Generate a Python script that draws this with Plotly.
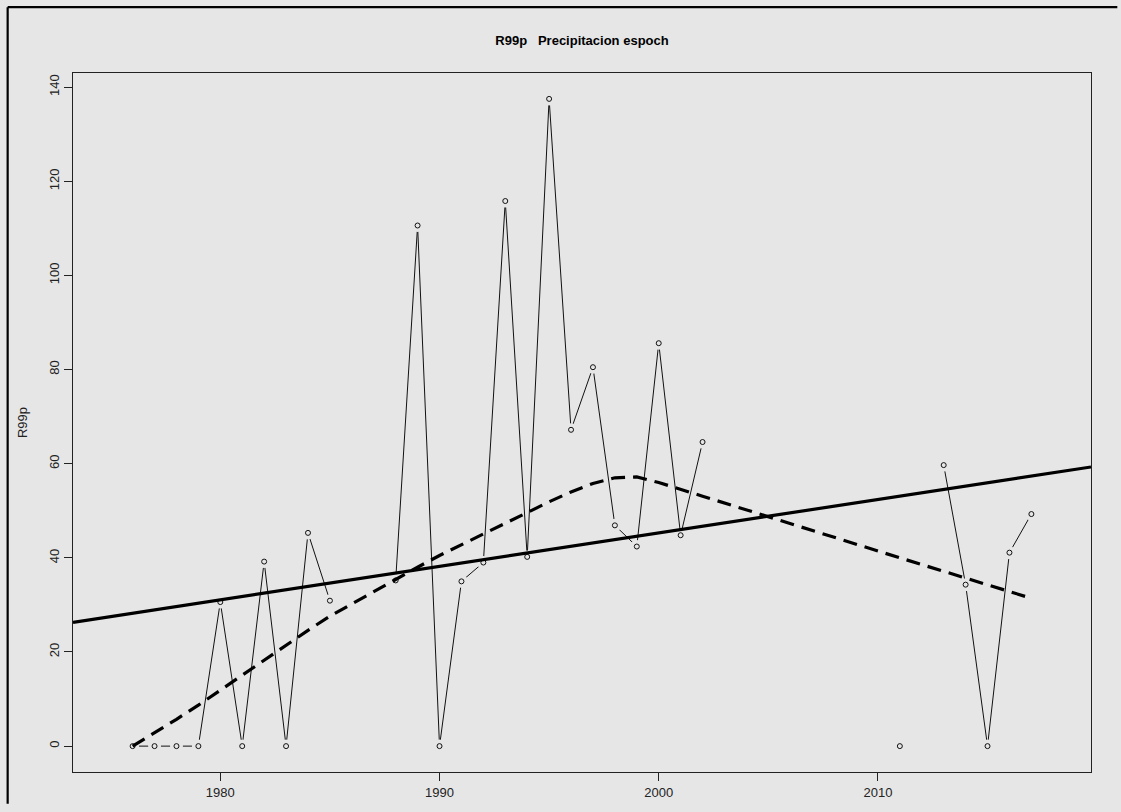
import plotly.graph_objects as go

# ---- data ----
years = list(range(1975, 2019))
r99p = [None, 0, 0, 0, 0, 30.6, 0, 39.2, 0, 45.3, 30.9, None, None, 35.2, 110.6, 0,
        35.0, 39.0, 115.8, 40.2, 137.5, 67.2, 80.5, 46.9, 42.4, 85.6, 44.8, 64.6,
        None, None, None, None, None, None, None, None, 0, None, 59.7, 34.3, 0, 41.1,
        49.3, None]

lowess_years = [1976, 1977, 1978, 1979, 1980, 1981, 1982, 1983, 1984, 1985, 1988, 1989,
                1990, 1991, 1992, 1993, 1994, 1995, 1996, 1997, 1998, 1999, 2000, 2001,
                2002, 2011, 2013, 2014, 2015, 2016, 2017]
lowess_vals = [0.0, 2.8, 5.7, 8.7, 11.9, 15.0, 18.2, 21.3, 24.6, 27.6, 35.5, 38.0,
               40.5, 42.8, 45.0, 47.3, 49.6, 51.9, 54.0, 55.8, 57.0, 57.2, 56.0, 54.5,
               53.1, 40.0, 37.1, 35.7, 34.2, 32.8, 31.4]

trend_center_year = 1996.5
trend_center_val = 42.8
trend_slope = 0.7106

x_ticks = [1980, 1990, 2000, 2010]
y_ticks = [0, 20, 40, 60, 80, 100, 120, 140]
x_range = [1973.28, 2019.72]
y_range = [-5.5, 143.0]

BG = "#E6E6E6"
FONT = "Arial, Liberation Sans, sans-serif"

W, H = 1121, 812
L, R, T, B = 73.3, 30.3, 72.7, 36.0
PW, PH = W - L - R, H - T - B

fig = go.Figure()

# data line (type = "b")
fig.add_trace(go.Scatter(x=years, y=r99p, mode="lines", connectgaps=False,
                         line=dict(color="#111111", width=1), hoverinfo="skip"))
# gaps around points
fig.add_trace(go.Scatter(x=years, y=r99p, mode="markers",
                         marker=dict(size=13, color=BG, line=dict(width=0)), hoverinfo="skip"))
# open circles
fig.add_trace(go.Scatter(x=years, y=r99p, mode="markers",
                         marker=dict(size=5, symbol="circle-open", color="#111111",
                                     line=dict(width=1, color="#111111"))))

# regression line over full axis
tx = x_range
ty = [trend_center_val + trend_slope * (v - trend_center_year) for v in tx]
fig.add_trace(go.Scatter(x=tx, y=ty, mode="lines", line=dict(color="black", width=3.2),
                         hoverinfo="skip"))

# lowess (dashed)
fig.add_trace(go.Scatter(x=lowess_years, y=lowess_vals, mode="lines",
                         line=dict(color="black", width=3.2, dash="14px,8px"),
                         hoverinfo="skip"))

def px_x(p):
    return (p - L) / PW

def px_y(p):
    return 1 - (p - T) / PH

# outer frame: top and left edges, kept strictly inside the page
fig.add_shape(type="line", xref="paper", yref="paper",
              x0=px_x(8), x1=px_x(W - 4), y0=px_y(6.5), y1=px_y(6.5),
              line=dict(color="black", width=2.2), layer="above")
fig.add_shape(type="line", xref="paper", yref="paper",
              x0=px_x(8), x1=px_x(8), y0=px_y(6.5), y1=px_y(H - 4),
              line=dict(color="black", width=2.2), layer="above")

fig.update_layout(
    width=W, height=H,
    margin=dict(l=L, r=R, t=T, b=B),
    paper_bgcolor=BG, plot_bgcolor=BG,
    showlegend=False,
    font=dict(family=FONT, size=13, color="#222222"),
    title=dict(text="R99p\u00a0\u00a0\u00a0Precipitacion espoch", x=582 / W,
               xanchor="center", y=1 - 40 / H, yanchor="middle",
               font=dict(family=FONT, size=13, color="black", weight="bold")),
    xaxis=dict(range=x_range, tickvals=x_ticks, ticktext=[str(v) for v in x_ticks],
               showgrid=False, zeroline=False, showline=True, mirror=True,
               linecolor="#222222", linewidth=1.2, ticks="outside", ticklen=8,
               tickcolor="#222222", tickwidth=1, tickfont=dict(size=13, color="#222222")),
    yaxis=dict(range=y_range, tickvals=y_ticks, ticktext=[str(v) for v in y_ticks],
               showgrid=False, zeroline=False, showline=True, mirror=True,
               linecolor="#222222", linewidth=1.2, ticks="outside", ticklen=8,
               tickcolor="#222222", tickwidth=1, tickangle=-90,
               tickfont=dict(size=13, color="#222222"),
               title=dict(text="R99p", font=dict(size=13, color="#222222"), standoff=16)),
)

fig.write_html("out.html", config={"displayModeBar": False})
